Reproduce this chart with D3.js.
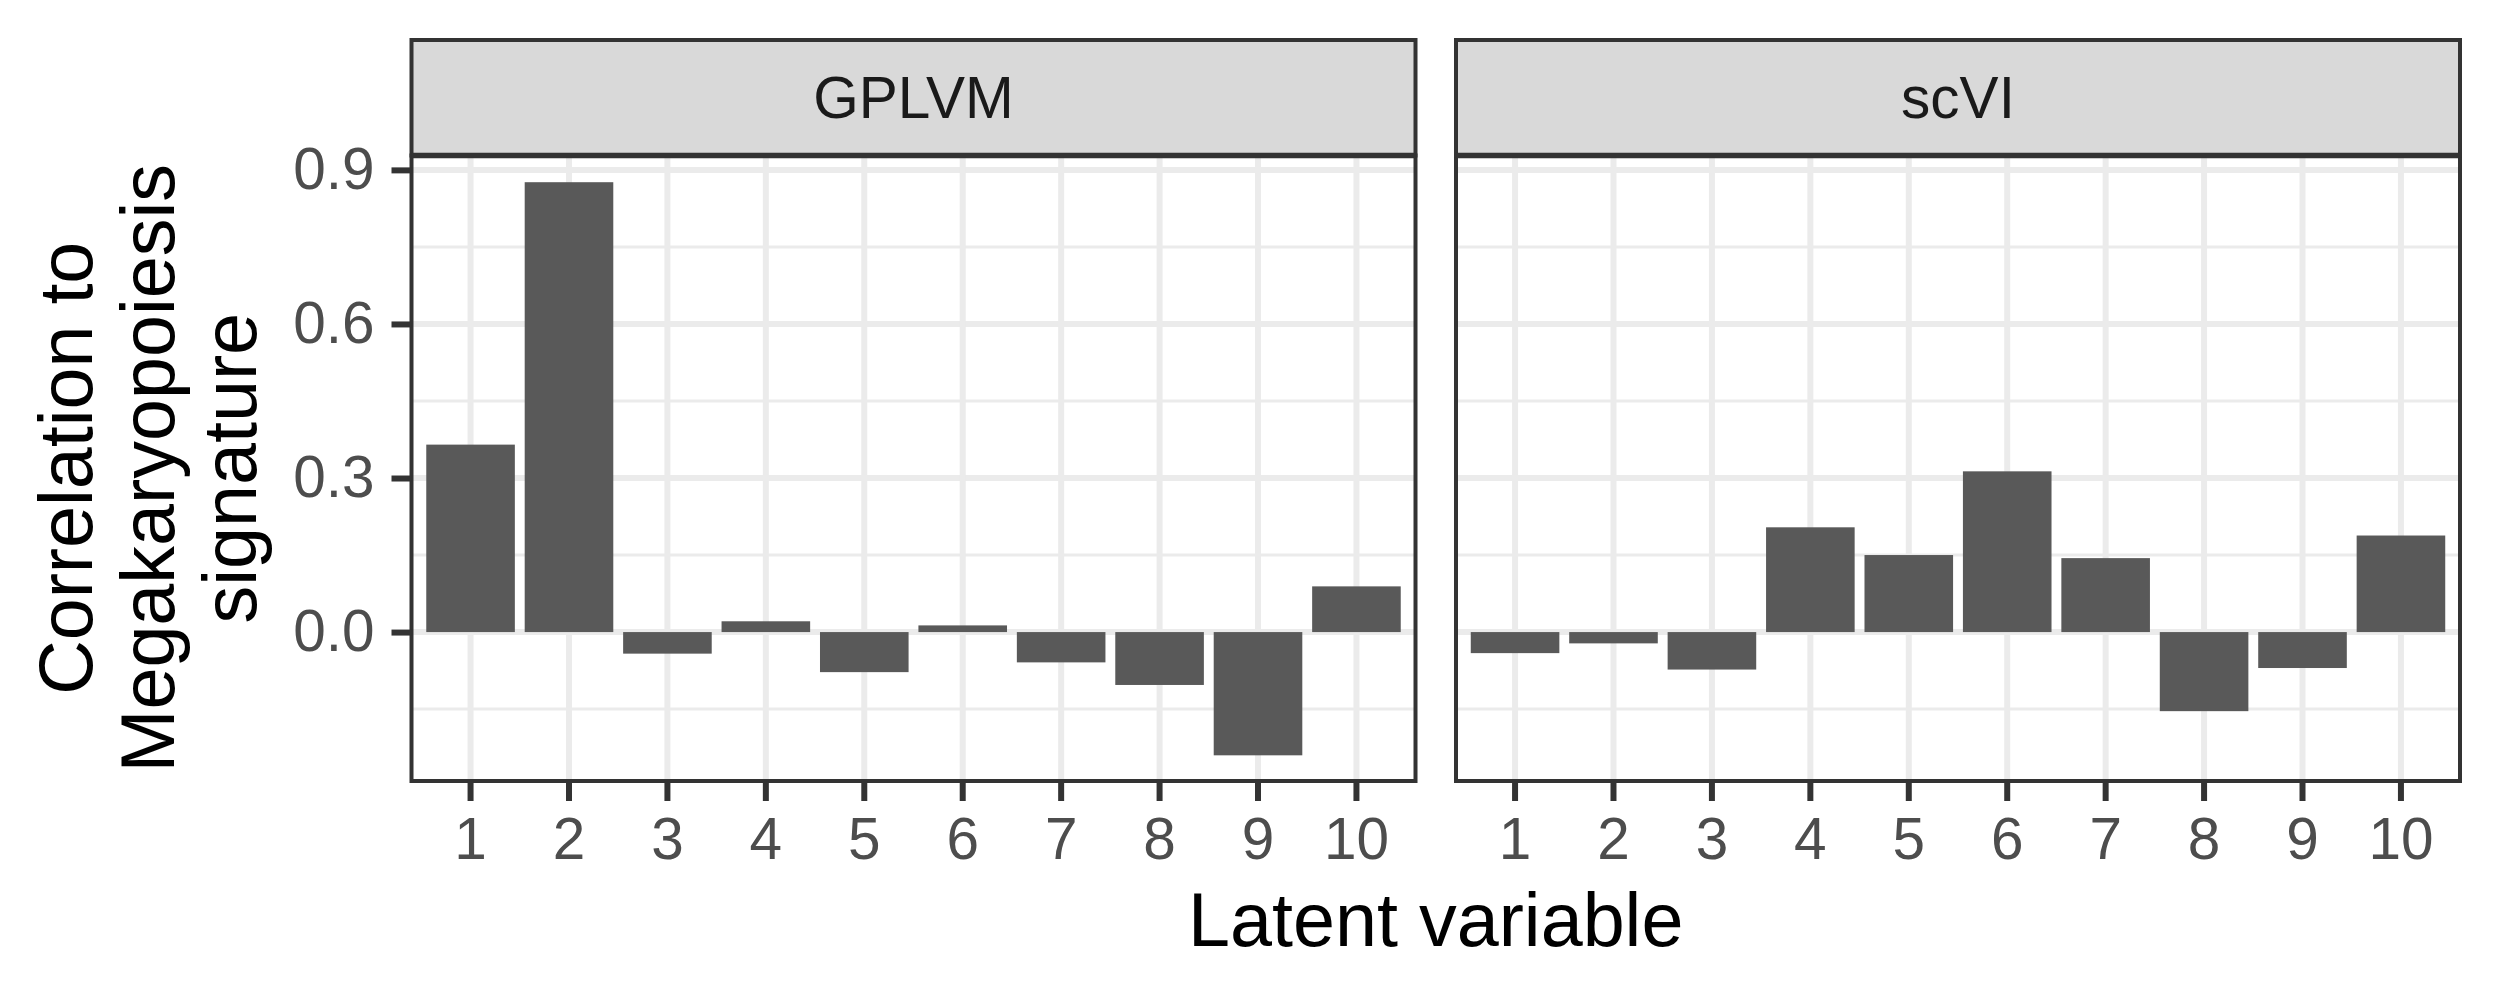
<!DOCTYPE html>
<html>
<head>
<meta charset="utf-8">
<script src="https://cdn.jsdelivr.net/npm/d3@7"></script>
<style>
  html, body { margin: 0; padding: 0; background: #ffffff; }
  svg { display: block; }
</style>
</head>
<body>
<script>
// ---- data ----
const categories = ["1", "2", "3", "4", "5", "6", "7", "8", "9", "10"];
const panelNames = ["GPLVM", "scVI"];
const gplvmValues = [0.365, 0.876, -0.042, 0.021, -0.078, 0.013, -0.059, -0.103, -0.240, 0.089];
const scviValues = [-0.041, -0.022, -0.073, 0.204, 0.150, 0.313, 0.144, -0.154, -0.070, 0.188];
const yMajorTicks = [0, 0.3, 0.6, 0.9];
const yMinorTicks = [-0.15, 0.15, 0.45, 0.75];
const xTitle = "Latent variable";
const yTitleLines = ["Correlation to", "Megakaryopoiesis", "signature"];

const seriesByPanel = [gplvmValues, scviValues];

// ---- layout ----
const W = 2500, H = 1000;
const font = "'Liberation Sans', Arial, Helvetica, sans-serif";
const stripTop = 40, stripBottom = 155.5, panelBottom = 781;
const panelX = [[411.5, 1415.5], [1456, 2460]];

const svg = d3.select("body").append("svg")
  .attr("width", W).attr("height", H)
  .style("font-family", font);
svg.append("rect").attr("width", W).attr("height", H).attr("fill", "#ffffff");

const y = d3.scaleLinear().domain([-0.29, 0.928]).range([panelBottom, stripBottom]);

panelNames.forEach((name, pi) => {
  const [x0, x1] = panelX[pi];
  const x = d3.scaleBand().domain(categories).range([x0, x1])
    .paddingInner(0.1).paddingOuter(0.15);
  const values = seriesByPanel[pi];
  const g = svg.append("g");

  g.append("rect").attr("x", x0).attr("y", stripBottom)
    .attr("width", x1 - x0).attr("height", panelBottom - stripBottom)
    .attr("fill", "#ffffff");

  g.selectAll(".ymin").data(yMinorTicks).join("line")
    .attr("x1", x0).attr("x2", x1)
    .attr("y1", d => y(d)).attr("y2", d => y(d))
    .attr("stroke", "#EBEBEB").attr("stroke-width", 3);
  g.selectAll(".ymaj").data(yMajorTicks).join("line")
    .attr("x1", x0).attr("x2", x1)
    .attr("y1", d => y(d)).attr("y2", d => y(d))
    .attr("stroke", "#EBEBEB").attr("stroke-width", 6);
  g.selectAll(".xmaj").data(categories).join("line")
    .attr("x1", d => x(d) + x.bandwidth() / 2).attr("x2", d => x(d) + x.bandwidth() / 2)
    .attr("y1", stripBottom).attr("y2", panelBottom)
    .attr("stroke", "#EBEBEB").attr("stroke-width", 6);

  g.selectAll(".bar").data(values).join("rect")
    .attr("x", (d, i) => x(categories[i]))
    .attr("width", x.bandwidth())
    .attr("y", d => y(Math.max(0, d)))
    .attr("height", d => Math.abs(y(d) - y(0)))
    .attr("fill", "#595959");

  g.append("rect").attr("x", x0).attr("y", stripBottom)
    .attr("width", x1 - x0).attr("height", panelBottom - stripBottom)
    .attr("fill", "none").attr("stroke", "#333333").attr("stroke-width", 4);

  g.append("rect").attr("x", x0).attr("y", stripTop)
    .attr("width", x1 - x0).attr("height", stripBottom - stripTop)
    .attr("fill", "#D9D9D9").attr("stroke", "#333333").attr("stroke-width", 4);
  g.append("line").attr("x1", x0).attr("x2", x1)
    .attr("y1", stripBottom).attr("y2", stripBottom)
    .attr("stroke", "#333333").attr("stroke-width", 5.5);
  g.append("text")
    .attr("x", (x0 + x1) / 2).attr("y", 118)
    .attr("text-anchor", "middle")
    .attr("font-size", 58.5).attr("fill", "#1A1A1A")
    .text(name);

  const xAxis = g.append("g")
    .attr("transform", `translate(0,${panelBottom})`)
    .call(d3.axisBottom(x).tickSize(20).tickPadding(16).tickSizeOuter(0));
  xAxis.select(".domain").remove();
  xAxis.selectAll(".tick line").attr("stroke", "#333333").attr("stroke-width", 6);
  xAxis.selectAll(".tick text")
    .attr("font-size", 58.5).attr("fill", "#4D4D4D")
    .attr("font-family", font);

  if (pi === 0) {
    const yAxis = g.append("g")
      .attr("transform", `translate(${x0},0)`)
      .call(d3.axisLeft(y).tickValues(yMajorTicks).tickFormat(d3.format(".1f"))
        .tickSize(20).tickPadding(17).tickSizeOuter(0));
    yAxis.select(".domain").remove();
    yAxis.selectAll(".tick line").attr("stroke", "#333333").attr("stroke-width", 6);
    yAxis.selectAll(".tick text")
      .attr("font-size", 58.5).attr("fill", "#4D4D4D")
      .attr("font-family", font);
  }
});

svg.append("text")
  .attr("x", (panelX[0][0] + panelX[1][1]) / 2).attr("y", 945.5)
  .attr("text-anchor", "middle")
  .attr("font-size", 75.5).attr("fill", "#000000")
  .text(xTitle);

const yCenter = (stripBottom + panelBottom) / 2;
const baselines = [92, 174, 256];
yTitleLines.forEach((line, i) => {
  svg.append("text")
    .attr("transform", `translate(${baselines[i]},${yCenter}) rotate(-90)`)
    .attr("text-anchor", "middle")
    .attr("font-size", 75.5).attr("fill", "#000000")
    .text(line);
});
</script>
</body>
</html>
